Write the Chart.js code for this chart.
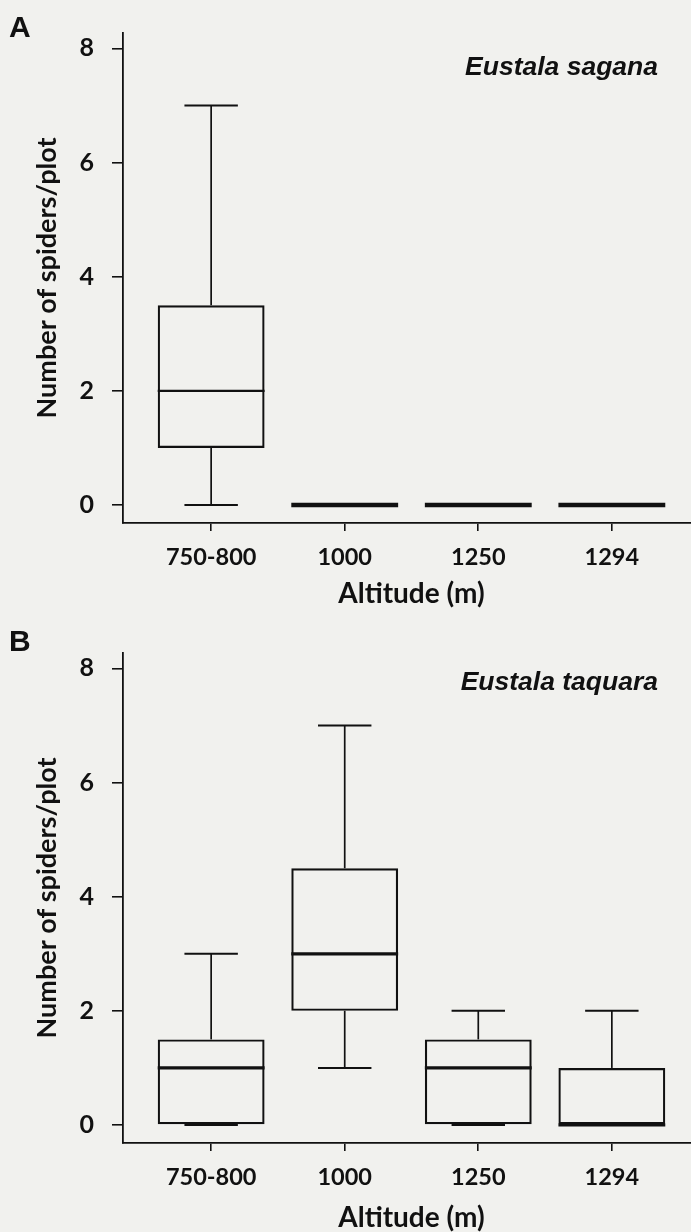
<!DOCTYPE html>
<html>
<head>
<meta charset="utf-8">
<script src="https://cdn.jsdelivr.net/npm/chart.js@4/dist/chart.umd.min.js"></script>
<style>
  html, body { margin: 0; padding: 0; background: #f1f1ee; }
  #wrap { position: relative; width: 691px; height: 1232px; overflow: hidden; background: #f1f1ee; }
  canvas { position: absolute; left: 0; }
</style>
</head>
<body>
<div id="wrap">
  <canvas id="panelA" width="700" height="620" style="top:0px"></canvas>
  <canvas id="panelB" width="700" height="620" style="top:620px"></canvas>
</div>
<script>
// ---- data ----
const altitudes = ['750-800', '1000', '1250', '1294'];
const yTickValues = [0, 2, 4, 6, 8];

// Eustala sagana (panel A)
const sagMin = [0, 0, 0, 0];
const sagQ1  = [1, 0, 0, 0];
const sagMed = [2, 0, 0, 0];
const sagQ3  = [3.5, 0, 0, 0];
const sagMax = [7, 0, 0, 0];

// Eustala taquara (panel B)
const taqMin = [0, 1, 0, 0];
const taqQ1  = [0, 2, 0, 0];
const taqMed = [1, 3, 1, 0];
const taqQ3  = [1.5, 4.5, 1.5, 1];
const taqMax = [3, 7, 2, 2];

const INK = '#111';

const boxPlugin = {
  id: 'boxWhiskers',
  afterDatasetsDraw(chart) {
    const meta = chart.getDatasetMeta(0);
    const ds = chart.data.datasets[0];
    const y = chart.scales.y;
    const ctx = chart.ctx;
    ctx.save();
    ctx.strokeStyle = INK;
    ctx.lineCap = 'butt';
    meta.data.forEach((el, i) => {
      const cx = el.x;
      const hw = el.width / 2;
      const pMin = y.getPixelForValue(ds.mins[i]);
      const pQ1 = y.getPixelForValue(ds.q1s[i]);
      const pQ3 = y.getPixelForValue(ds.q3s[i]);
      const pMax = y.getPixelForValue(ds.maxs[i]);
      const pMed = y.getPixelForValue(ds.meds[i]);
      // whiskers
      ctx.lineWidth = 1.7;
      ctx.beginPath();
      ctx.moveTo(cx, pQ3); ctx.lineTo(cx, pMax);
      ctx.moveTo(cx, pQ1); ctx.lineTo(cx, pMin);
      ctx.stroke();
      // caps
      ctx.lineWidth = 2;
      ctx.beginPath();
      ctx.moveTo(cx - hw / 2, pMax); ctx.lineTo(cx + hw / 2, pMax);
      ctx.moveTo(cx - hw / 2, pMin); ctx.lineTo(cx + hw / 2, pMin);
      ctx.stroke();
      // median
      ctx.lineWidth = ds.medianWidth(i);
      ctx.beginPath();
      ctx.moveTo(cx - hw, pMed); ctx.lineTo(cx + hw, pMed);
      ctx.stroke();
    });
    ctx.restore();
  }
};

const labelPlugin = {
  id: 'panelLabels',
  afterDraw(chart) {
    const o = chart.options.plugins.panelLabels;
    const ctx = chart.ctx;
    ctx.save();
    ctx.fillStyle = INK;
    ctx.textBaseline = 'alphabetic';
    ctx.textAlign = 'left';
    ctx.font = 'bold 30px "Liberation Sans", Arial, sans-serif';
    ctx.fillText(o.letter, 9, o.letterBaseline);
    ctx.textAlign = 'right';
    ctx.font = 'italic bold 26.5px "Liberation Sans", Arial, sans-serif';
    ctx.fillText(o.species, 658, o.speciesBaseline);
    ctx.restore();
  }
};

function makePanel(id, mins, q1s, meds, q3s, maxs, letter, species, letterBaseline, speciesBaseline, titlePadBottom, medWidth) {
  new Chart(document.getElementById(id), {
    type: 'bar',
    data: {
      datasets: [{
        data: altitudes.map((a, i) => ({ x: i + 1, y: [q1s[i], q3s[i]] })),
        mins, q1s, meds, q3s, maxs,
        medianWidth: (i) => (q1s[i] === q3s[i] ? 4.5 : medWidth),
        backgroundColor: 'rgba(0,0,0,0)',
        borderColor: INK,
        borderWidth: 2.2,
        borderSkipped: false,
        barPercentage: 0.8,
        categoryPercentage: 1.0
      }]
    },
    options: {
      responsive: false,
      animation: false,
      devicePixelRatio: 1,
      layout: { padding: { top: 22, left: 0, right: 0, bottom: 0 } },
      plugins: {
        legend: { display: false },
        tooltip: { enabled: false },
        panelLabels: { letter, species, letterBaseline, speciesBaseline }
      },
      scales: {
        x: {
          type: 'linear',
          offset: false,
          min: 0.34,
          max: 4.66,
          afterBuildTicks(s) { s.ticks = altitudes.map((a, i) => ({ value: i + 1 })); },
          afterFit(s) { s.height = 97; },
          ticks: {
            autoSkip: false,
            maxRotation: 0,
            padding: 12,
            color: INK,
            font: { family: 'Lato', weight: 'bold', size: 23.5 },
            callback: (v) => altitudes[v - 1]
          },
          grid: { display: true, offset: false, drawOnChartArea: false, drawTicks: true, tickLength: 8, color: INK, lineWidth: 1.6 },
          border: { display: true, color: INK, width: 1.8 },
          title: {
            display: true,
            text: 'Altitude (m)',
            color: INK,
            font: { family: 'Lato', weight: 'bold', size: 28 },
            padding: { top: 0, bottom: titlePadBottom }
          }
        },
        y: {
          type: 'linear',
          min: -0.315,
          max: 8.27,
          afterBuildTicks(s) { s.ticks = yTickValues.map(v => ({ value: v })); },
          afterFit(s) { s.width = 123; },
          ticks: {
            padding: 18,
            color: INK,
            font: { family: 'Lato', weight: 'bold', size: 25 },
            callback: (v) => String(v)
          },
          grid: { display: true, drawOnChartArea: false, drawTicks: true, tickLength: 11, color: INK, lineWidth: 1.6 },
          border: { display: true, color: INK, width: 1.8 },
          title: {
            display: true,
            text: 'Number of spiders/plot',
            color: INK,
            font: { family: 'Lato', weight: 'bold', size: 27 },
            padding: { top: 31, bottom: 0 }
          }
        }
      }
    },
    plugins: [boxPlugin, labelPlugin]
  });
}

makePanel('panelA', sagMin, sagQ1, sagMed, sagQ3, sagMax, 'A', 'Eustala sagana', 37, 75, 9, 2.2);
makePanel('panelB', taqMin, taqQ1, taqMed, taqQ3, taqMax, 'B', 'Eustala taquara', 31, 70, 5, 3.2);
</script>
</body>
</html>
